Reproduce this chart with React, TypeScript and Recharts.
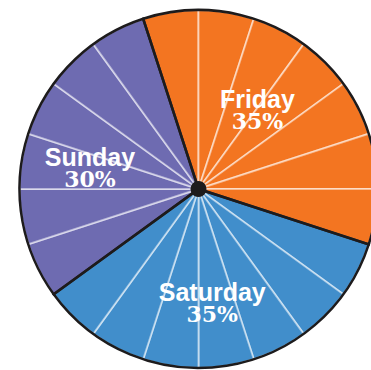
import { PieChart, Pie, Cell } from "recharts";

const categories = ["Friday", "Saturday", "Sunday"];
const shares = [35, 35, 30];
const colors = ["#F37521", "#418ECB", "#6E6BB1"];
// every slice is ruled into 5% wedges
const wedgeStep = 5;

const slices = categories.map((name, i) => ({ name, value: shares[i] }));
const wedges = categories.flatMap((name, i) =>
  Array.from({ length: shares[i] / wedgeStep }, () => ({ name, value: wedgeStep, color: colors[i] }))
);
const hub = [{ name: "hub", value: 1 }];

// per-label tweaks so text sits where the original put it
const labelNudge = [
  { da: 9, r: 0.56 },
  { da: -2, r: 0.63 },
  { da: 6, r: 0.62 },
];

const RAD = Math.PI / 180;

function SliceLabel(props: any) {
  const { cx, cy, midAngle, outerRadius, index, name, value } = props;
  const n = labelNudge[index];
  const a = (midAngle + n.da) * RAD;
  const x = cx + outerRadius * n.r * Math.cos(a);
  const y = cy - outerRadius * n.r * Math.sin(a);
  return (
    <text x={x} y={y} fill="#fff" textAnchor="middle">
      <tspan x={x} y={y} style={{ fontFamily: "'Liberation Sans', Arial, sans-serif", fontWeight: 700, fontSize: 25 }}>
        {name}
      </tspan>
      <tspan x={x} y={y + 21} style={{ fontFamily: "'DejaVu Serif', serif", fontWeight: 700, fontSize: 22 }}>
        {value}%
      </tspan>
    </text>
  );
}

export default function App() {
  return (
    <div style={{ position: "fixed", top: 0, left: 0, width: 371, height: 370, background: "#fff" }}>
      <PieChart width={371} height={370} margin={{ top: 0, right: 0, bottom: 0, left: 0 }}>
        <Pie
          data={wedges}
          dataKey="value"
          cx={198.5}
          cy={189}
          outerRadius={179}
          startAngle={108}
          endAngle={-252}
          stroke="rgba(255,255,255,0.5)"
          strokeWidth={2}
          isAnimationActive={false}
        >
          {wedges.map((w, i) => (
            <Cell key={i} fill={w.color} />
          ))}
        </Pie>
        <Pie
          data={slices}
          dataKey="value"
          cx={198.5}
          cy={189}
          outerRadius={179}
          startAngle={108}
          endAngle={-252}
          fill="none"
          stroke="#1d1b1c"
          strokeWidth={2.5}
          labelLine={false}
          label={SliceLabel}
          isAnimationActive={false}
        />
        <Pie
          data={hub}
          dataKey="value"
          cx={198.5}
          cy={189}
          outerRadius={8}
          fill="#1d1b1c"
          stroke="none"
          isAnimationActive={false}
        />
      </PieChart>
    </div>
  );
}
